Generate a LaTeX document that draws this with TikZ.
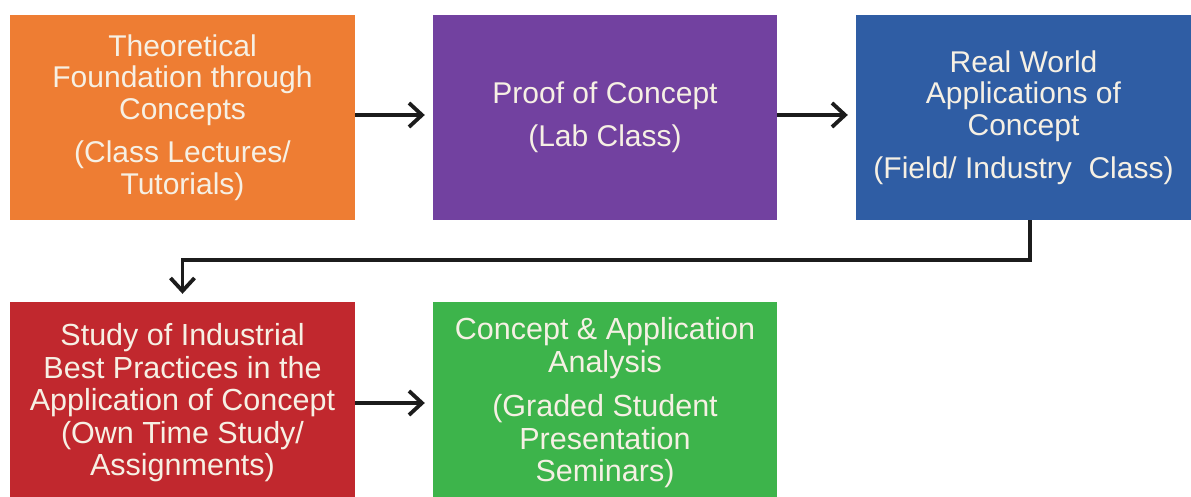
\documentclass[tikz,border=0pt]{standalone}
\usepackage{fontspec}
\setmainfont{Liberation Sans}
\usetikzlibrary{arrows.meta}
\definecolor{cOrange}{HTML}{EE7D33}
\definecolor{cPurple}{HTML}{7241A0}
\definecolor{cBlue}{HTML}{2F5DA4}
\definecolor{cRed}{HTML}{C1282E}
\definecolor{cGreen}{HTML}{3DB44B}
\definecolor{cText}{HTML}{F6F0E4}
\definecolor{cLine}{HTML}{1C1C1C}
\tikzset{
  box/.style={rectangle, inner sep=0pt, text=cText, align=center},
  topfont/.style={font=\fontsize{30}{31.5}\selectfont},
  botfont/.style={font=\fontsize{30.5}{32.5}\selectfont},
  arr/.style={draw=cLine, line width=3.8pt, -{Straight Barb[length=13pt,width=24pt]}, shorten >=8pt},
}
\begin{document}
\begin{tikzpicture}[x=1pt,y=-1pt]
\useasboundingbox (0,0) rectangle (1191,497);
\clip (0,0) rectangle (1191,497);
\fill[white] (0,0) rectangle (1191,497);

\node[box, topfont, fill=cOrange, minimum width=345pt, minimum height=205pt] (orange) at (182.5,117.5)
  {Theoretical\\Foundation through\\Concepts\\[12pt](Class Lectures/\\Tutorials)};
\node[box, topfont, fill=cPurple, minimum width=344pt, minimum height=205pt] (purple) at (605,117.5)
  {Proof of Concept\\[12pt](Lab Class)};
\node[box, topfont, fill=cBlue, minimum width=335pt, minimum height=205pt] (blue) at (1023.5,117.5)
  {Real World\\Applications of\\Concept\\[12pt](Field/ Industry\ \ Class)};
\node[box, botfont, fill=cRed, minimum width=345pt, minimum height=202pt] (red) at (182.5,403)
  {Study of Industrial\\Best Practices in the\\Application of Concept\\(Own Time Study/\\Assignments)};
\node[box, botfont, fill=cGreen, minimum width=344pt, minimum height=202pt] (green) at (605,403)
  {Concept \& Application\\Analysis\\[12pt](Graded Student\\Presentation\\Seminars)};

\draw[arr] ([yshift=2.5pt]orange.east) -- ([yshift=2.5pt]purple.west);
\draw[arr] ([yshift=2.5pt]purple.east) -- ([yshift=2.5pt]blue.west);
\draw[arr] ([xshift=6.5pt]blue.south) -- ++(0,40) -| (red.north);
\draw[arr] (red.east) -- (green.west);
\end{tikzpicture}
\end{document}
